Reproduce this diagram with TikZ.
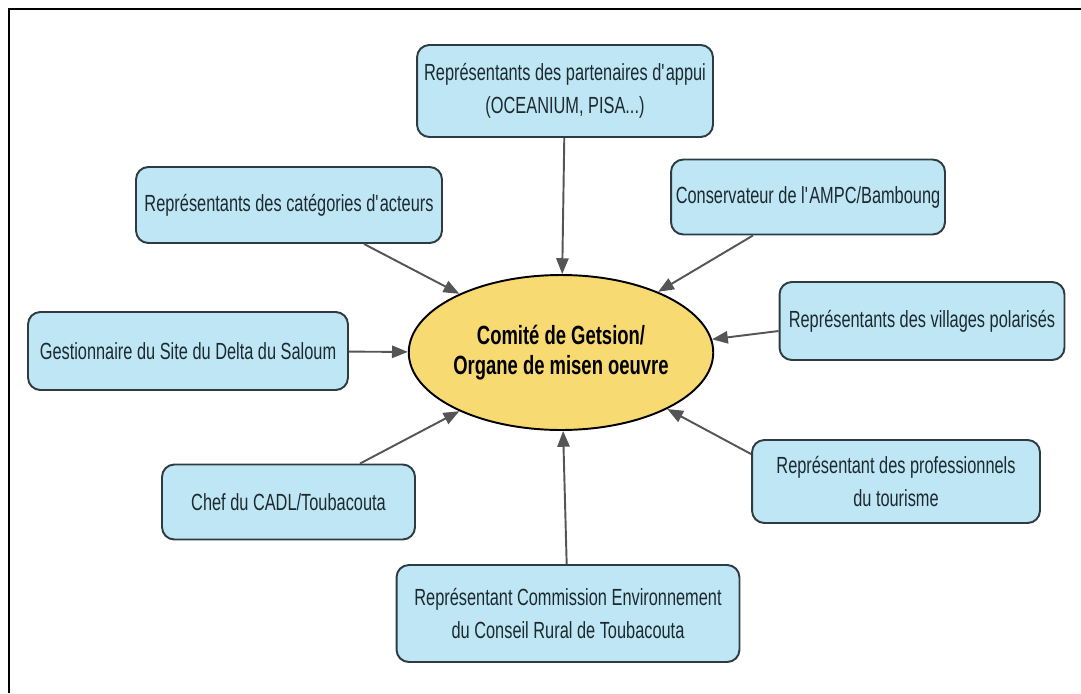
\documentclass[tikz,border=0pt]{standalone}
\usepackage{fontspec}
\setmainfont{Liberation Sans}[FakeStretch=0.7]
\usetikzlibrary{shapes.geometric,arrows.meta}
\definecolor{boxblue}{HTML}{BFE6F4}
\definecolor{boxline}{HTML}{2E3B40}
\definecolor{ovalyellow}{HTML}{F8DA72}
\definecolor{linkgrey}{HTML}{555555}
\definecolor{txtdark}{HTML}{1C2A30}
\begin{document}
\begin{tikzpicture}[x=0.02cm, y=-0.02cm,
  actor/.style={draw=boxline, line width=1.1pt, fill=boxblue, rounded corners=7pt, align=center, text=txtdark, inner sep=2pt, font=\fontsize{13.3}{18.7}\selectfont},
  link/.style={-{Triangle[length=9pt,width=7pt]}, line width=1.1pt, draw=linkgrey, fill=linkgrey}]
  \useasboundingbox (0,0) rectangle (1081,693);
  % frame
  \draw[line width=1.7pt] (9,693) -- (9,9) -- (1081,9);
  % centre
  \node[ellipse, draw=black, line width=1.1pt, fill=ovalyellow, minimum width=5.86cm, minimum height=3.1cm, inner sep=0pt, align=center, text=black, font=\bfseries\fontsize{15}{17.5}\selectfont] (comite) at (561,352.5) {Comité de Getsion/\\Organe de misen oeuvre};
  % actors around
  \node[actor, minimum width=5.92cm, minimum height=1.84cm] (appui) at (565,91) {Représentants des partenaires d\textquotesingle appui\\(OCEANIUM, PISA...)};
  \node[actor, minimum width=6.12cm, minimum height=1.52cm] (acteurs) at (289,205) {Représentants des catégories d\textquotesingle acteurs};
  \node[actor, minimum width=5.48cm, minimum height=1.5cm] (ampc) at (808,197) {Conservateur de l\textquotesingle AMPC/Bamboung};
  \node[actor, minimum width=5.7cm, minimum height=1.56cm] (villages) at (922,321) {Représentants des villages polarisés};
  \node[actor, minimum width=6.4cm, minimum height=1.56cm] (gestion) at (188,351) {Gestionnaire du Site du Delta du Saloum};
  \node[actor, minimum width=5.06cm, minimum height=1.5cm] (cadl) at (288.5,502) {Chef du CADL/Toubacouta};
  \node[actor, minimum width=5.76cm, minimum height=1.66cm] (tourisme) at (896,481.5) {Représentant des professionnels\\du tourisme};
  \node[actor, minimum width=6.86cm, minimum height=1.94cm] (conseil) at (568,613.5) {Représentant Commission Environnement\\du Conseil Rural de Toubacouta};
  % links
  \draw[link] (appui) -- (comite);
  \draw[link] ([xshift=1.5cm]acteurs.south) -- (comite.150);
  \draw[link] ([xshift=-1.1cm]ampc.south) -- (comite.32);
  \draw[link] ([yshift=-0.2cm]villages.west) -- (comite.5);
  \draw[link] (gestion) -- (comite);
  \draw[link] ([xshift=1.43cm]cadl.north) -- (comite.210);
  \draw[link] ([yshift=-0.3cm]tourisme.north west) -- (comite.-28);
  \draw[link] (conseil) -- (comite);
\end{tikzpicture}
\end{document}
